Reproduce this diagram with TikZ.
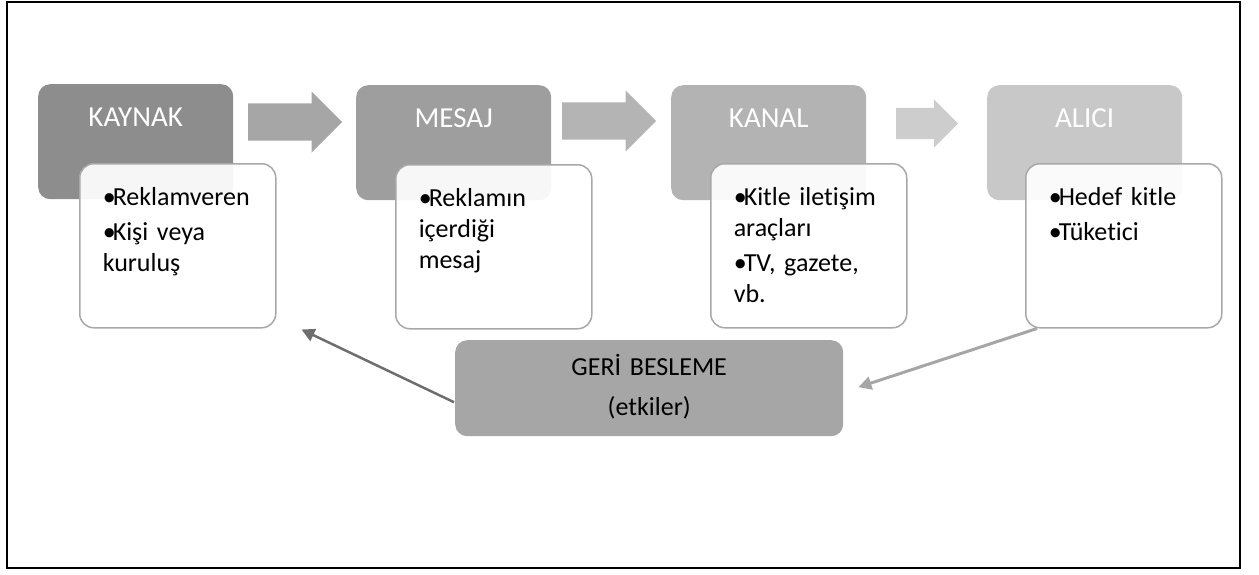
\documentclass[tikz,border=0pt]{standalone}
\usepackage{fontspec}
\setmainfont{Carlito}[Ligatures=NoCommon]
\usepackage{xcolor}
\usepackage{tikz}
\usetikzlibrary{arrows.meta,shapes.arrows,calc}

\definecolor{headA}{HTML}{8D8D8D}
\definecolor{headB}{HTML}{9E9E9E}
\definecolor{headC}{HTML}{B3B3B3}
\definecolor{headD}{HTML}{C8C8C8}
\definecolor{arrA}{HTML}{A6A6A6}
\definecolor{arrB}{HTML}{B4B4B4}
\definecolor{arrC}{HTML}{CDCDCD}
\definecolor{boxline}{HTML}{A8A8A8}
\definecolor{fbdark}{HTML}{6E6E6E}
\definecolor{fblight}{HTML}{A6A6A6}

\newcommand\bitem[1]{\hangindent=10pt\hangafter=1\noindent\makebox[10pt][l]{\textbullet}#1\par\vspace{4pt}}

\begin{document}
\begin{tikzpicture}[x=1pt,y=-1pt,
head/.style={rounded corners=12pt,inner sep=0pt,minimum width=195pt,text height=42pt,text depth=73pt,text=white,font=\fontsize{29}{35}\selectfont,anchor=north west},
list/.style={draw=boxline,line width=1.5pt,fill=white,fill opacity=0.92,text opacity=1,rounded corners=14pt,inner xsep=23pt,inner ysep=0pt,text width=150pt,text height=42pt,text depth=122pt,align=left,font=\fontsize{26}{31}\selectfont,anchor=north west},
blk/.style={single arrow,single arrow head extend=12pt,minimum height=94pt,inner xsep=0pt,inner ysep=18.5pt,anchor=tail},
fb/.style={line width=#1,-{Triangle[length=13pt,width=13pt]}}]
\useasboundingbox (0,0) rectangle (1259,574);
\draw[line width=2.5pt] (7,2) rectangle (1240,568);
% steps of the model
\node[head,fill=headA] (kaynak) at (38,84) {KAYNAK};
\node[head,fill=headB] (mesaj) at (356,85) {MESAJ};
\node[head,fill=headC] (kanal) at (671,85) {KANAL};
\node[head,fill=headD] (alici) at (987,85) {ALICI};
\node[list] (kaynakList) at (79,163) {\bitem{Reklamveren}\bitem{Kişi veya\\kuruluş}};
\node[list] (mesajList) at (395,164) {\bitem{Reklamın\\içerdiği\\mesaj}};
\node[list] (kanalList) at (710,163) {\bitem{Kitle iletişim\\araçları}\bitem{TV, gazete,\\vb.}};
\node[list] (aliciList) at (1025,163) {\bitem{Hedef kitle}\bitem{Tüketici}};
\node[blk,fill=arrA] (ok1) at (248,122) {};
\node[blk,fill=arrB] (ok2) at (562,121) {};
\node[blk,fill=arrC,single arrow head extend=8.5pt,minimum height=62pt,inner ysep=15.5pt] (ok3) at (896,123.5) {};
% feedback
\node[rounded corners=12pt,fill=arrA,inner sep=0pt,text width=388pt,align=center,text height=35pt,text depth=61pt,font=\fontsize{26}{40}\selectfont,anchor=north west] (geri) at (455,340) {GERİ BESLEME\\(etkiler)};
\draw[fb=2.5pt,draw=fbdark,fill=fbdark] ($(geri.west)+(-1,14)$) -- ($(kaynakList.south east)+(25,1)$);
\draw[fb=3pt,draw=fblight,fill=fblight] ($(aliciList.south west)+(12,0)$) -- ($(geri.east)+(15,-1)$);
\end{tikzpicture}
\end{document}
